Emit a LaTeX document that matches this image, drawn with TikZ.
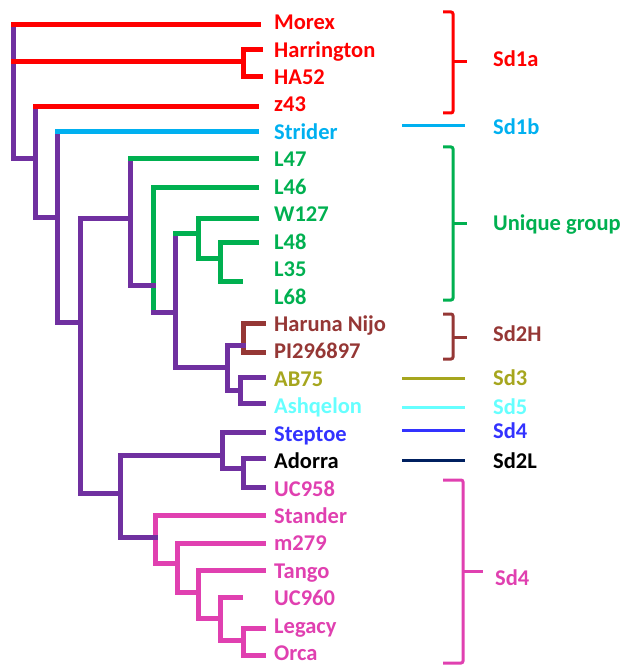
\documentclass[tikz,border=0pt]{standalone}
\usepackage{fontspec}
\setmainfont{Carlito}
\definecolor{cred}{HTML}{FF0000}
\definecolor{cpur}{HTML}{7030A0}
\definecolor{csky}{HTML}{00B0F0}
\definecolor{cgrn}{HTML}{00B050}
\definecolor{cbrn}{HTML}{953735}
\definecolor{coli}{HTML}{A6A61E}
\definecolor{ccya}{HTML}{66FFFF}
\definecolor{cblu}{HTML}{3333FF}
\definecolor{cnav}{HTML}{002060}
\definecolor{cpnk}{HTML}{E040B0}
\begin{document}
\begin{tikzpicture}[x=1pt,y=-1pt,
  tree/.style={line width=5pt,line cap=rect},
  brk/.style={line width=3pt},
  lab/.style={anchor=base west,inner sep=0pt,font=\fontsize{22.5}{27}\selectfont\bfseries}]
\useasboundingbox (0,0) rectangle (630,668);
% leaf labels
\node[lab,cred] (morex) at (274,29.7) {Morex};
\node[lab,cred] (harr) at (274,57.1) {Harrington};
\node[lab,cred] (ha52) at (274,84.6) {HA52};
\node[lab,cred] (z43) at (274,112.0) {z43};
\node[lab,csky] (strider) at (274,139.4) {Strider};
\node[lab,cgrn] (l47) at (274,166.9) {L47};
\node[lab,cgrn] (l46) at (274,194.3) {L46};
\node[lab,cgrn] (w127) at (274,221.7) {W127};
\node[lab,cgrn] (l48) at (274,249.1) {L48};
\node[lab,cgrn] (l35) at (274,276.6) {L35};
\node[lab,cgrn] (l68) at (274,304.0) {L68};
\node[lab,cbrn] (haruna) at (274,331.4) {Haruna Nijo};
\node[lab,cbrn] (pi) at (274,358.9) {PI296897};
\node[lab,coli] (ab75) at (274,386.3) {AB75};
\node[lab,ccya] (ashq) at (274,413.7) {Ashqelon};
\node[lab,cblu] (steptoe) at (274,441.2) {Steptoe};
\node[lab,black] (adorra) at (274,468.6) {Adorra};
\node[lab,cpnk] (uc958) at (274,496.0) {UC958};
\node[lab,cpnk] (stander) at (274,523.4) {Stander};
\node[lab,cpnk] (m279) at (274,550.9) {m279};
\node[lab,cpnk] (tango) at (274,578.3) {Tango};
\node[lab,cpnk] (uc960) at (274,605.7) {UC960};
\node[lab,cpnk] (legacy) at (274,633.2) {Legacy};
\node[lab,cpnk] (orca) at (274,660.6) {Orca};
% leaf line ends
\coordinate (e-morex) at (258,25);
\coordinate (e-harr) at (260,50);
\coordinate (e-ha52) at (260,77);
\coordinate (e-z43) at (256,107);
\coordinate (e-strider) at (256,132);
\coordinate (e-l47) at (256,159);
\coordinate (e-l46) at (256,188);
\coordinate (e-w127) at (256,218);
\coordinate (e-l48) at (256,242);
\coordinate (e-l35) at (240,281);
\coordinate (e-haruna) at (263,323);
\coordinate (e-pi) at (263,352);
\coordinate (e-ab75) at (263,377);
\coordinate (e-ashq) at (263,403);
\coordinate (e-steptoe) at (263,432);
\coordinate (e-adorra) at (263,458);
\coordinate (e-uc958) at (263,487);
\coordinate (e-stander) at (263,515);
\coordinate (e-m279) at (263,543);
\coordinate (e-tango) at (263,570);
\coordinate (e-uc960) at (240,597);
\coordinate (e-legacy) at (263,628);
\coordinate (e-orca) at (263,655);
% internal nodes (x of bar, y of incoming branch)
\coordinate (n1) at (13,25);
\coordinate (hh) at (243,62);
\coordinate (n3) at (35,159);
\coordinate (n4) at (57,217);
\coordinate (n5) at (80,322);
\coordinate (n6) at (130,218);
\coordinate (n7) at (153,285);
\coordinate (n8) at (175,312);
\coordinate (n9) at (198,233);
\coordinate (n9b) at (220,258);
\coordinate (n10) at (227,367);
\coordinate (n11) at (243,345);
\coordinate (n11b) at (240,390);
\coordinate (n12) at (120,493);
\coordinate (n13) at (222,455);
\coordinate (n14) at (243,468);
\coordinate (n15) at (155,537);
\coordinate (n16) at (177,563);
\coordinate (n17) at (198,592);
\coordinate (n18) at (220,618);
\coordinate (n19) at (243,640);
% bars
\draw[tree,cpur] (n1 |- e-morex) -- (n1 |- n3);
\draw[tree,cred] (hh |- e-harr) -- (hh |- e-ha52);
\draw[tree,cpur] (n3 |- e-z43) -- (n3 |- n4);
\draw[tree,cpur] (n4 |- e-strider) -- (n4 |- n5);
\draw[tree,cpur] (n5 |- n6) -- (n5 |- n12);
\draw[tree,cpur] (n6 |- e-l47) -- (n6 |- n7);
\draw[tree,cgrn] (n7 |- e-l46) -- (n7 |- n8);
\draw[tree,cpur] (n8 |- n9) -- (n8 |- n10);
\draw[tree,cgrn] (n9 |- e-w127) -- (n9 |- n9b);
\draw[tree,cgrn] (n9b |- e-l48) -- (n9b |- e-l35);
\draw[tree,cpur] (n10 |- n11) -- (n10 |- n11b);
\draw[tree,cbrn] (n11 |- e-haruna) -- (n11 |- e-pi);
\draw[tree,cpur] (n11b |- e-ab75) -- (n11b |- e-ashq);
\draw[tree,cpur] (n12 |- n13) -- (n12 |- n15);
\draw[tree,cpur] (n13 |- e-steptoe) -- (n13 |- n14);
\draw[tree,cpur] (n14 |- e-adorra) -- (n14 |- e-uc958);
\draw[tree,cpnk] (n15 |- e-stander) -- (n15 |- n16);
\draw[tree,cpnk] (n16 |- e-m279) -- (n16 |- n17);
\draw[tree,cpnk] (n17 |- e-tango) -- (n17 |- n18);
\draw[tree,cpnk] (n18 |- e-uc960) -- (n18 |- n19);
\draw[tree,cpnk] (n19 |- e-legacy) -- (n19 |- e-orca);
% branches
\foreach \p/\c/\col in {n1/e-morex/cred, n1/hh/cred, n1/n3/cpur,
  hh/e-harr/cred, hh/e-ha52/cred, n3/e-z43/cred, n3/n4/cpur,
  n4/e-strider/csky, n4/n5/cpur, n5/n6/cpur, n5/n12/cpur,
  n6/e-l47/cgrn, n6/n7/cpur, n7/e-l46/cgrn, n7/n8/cpur,
  n8/n9/cgrn, n8/n10/cpur, n9/e-w127/cgrn, n9/n9b/cgrn,
  n9b/e-l48/cgrn, n9b/e-l35/cgrn, n10/n11/cpur, n10/n11b/cpur,
  n11/e-haruna/cbrn, n11/e-pi/cbrn, n11b/e-ab75/cpur, n11b/e-ashq/cpur,
  n12/n13/cpur, n12/n15/cpur, n13/e-steptoe/cpur, n13/n14/cpur,
  n14/e-adorra/cpur, n14/e-uc958/cpur, n15/e-stander/cpnk, n15/n16/cpnk,
  n16/e-m279/cpnk, n16/n17/cpnk, n17/e-tango/cpnk, n17/n18/cpnk,
  n18/e-uc960/cpnk, n18/n19/cpnk, n19/e-legacy/cpnk, n19/e-orca/cpnk}
  \draw[tree,\col] (\p |- \c) -- (\c);
% group labels
\node[lab,cred] (g1a) at (493,67) {Sd1a};
\node[lab,csky] (g1b) at (493,135) {Sd1b};
\node[lab,cgrn] (gun) at (493,230) {Unique group};
\node[lab,cbrn] (g2h) at (493,341) {Sd2H};
\node[lab,coli] (g3) at (493,385) {Sd3};
\node[lab,ccya] (g5) at (493,414) {Sd5};
\node[lab,cblu] (g4a) at (493,438) {Sd4};
\node[lab,black] (g2l) at (493,468) {Sd2L};
\node[lab,cpnk] (g4b) at (495,585) {Sd4};
% brackets
\draw[brk,cred,rounded corners=2pt] (443,12) -- (453,12) -- (453,113) -- (443,113);
\draw[brk,cred] (453,62) -- (467,62);
\draw[brk,cgrn,rounded corners=2pt] (443,147) -- (453,147) -- (453,300) -- (443,300);
\draw[brk,cgrn] (453,223) -- (467,223);
\draw[brk,cbrn,rounded corners=2pt] (443,314) -- (453,314) -- (453,359) -- (443,359);
\draw[brk,cbrn] (453,337) -- (467,337);
\draw[brk,cpnk,rounded corners=2pt] (443,480) -- (463,480) -- (463,663) -- (443,663);
\draw[brk,cpnk] (463,571) -- (483,571);
% single-member markers
\draw[brk,csky] (402,126) -- (465,126);
\draw[brk,coli] (402,378) -- (465,378);
\draw[brk,ccya] (402,407) -- (465,407);
\draw[brk,cblu] (402,430) -- (465,430);
\draw[brk,cnav] (402,460) -- (465,460);
\end{tikzpicture}
\end{document}
